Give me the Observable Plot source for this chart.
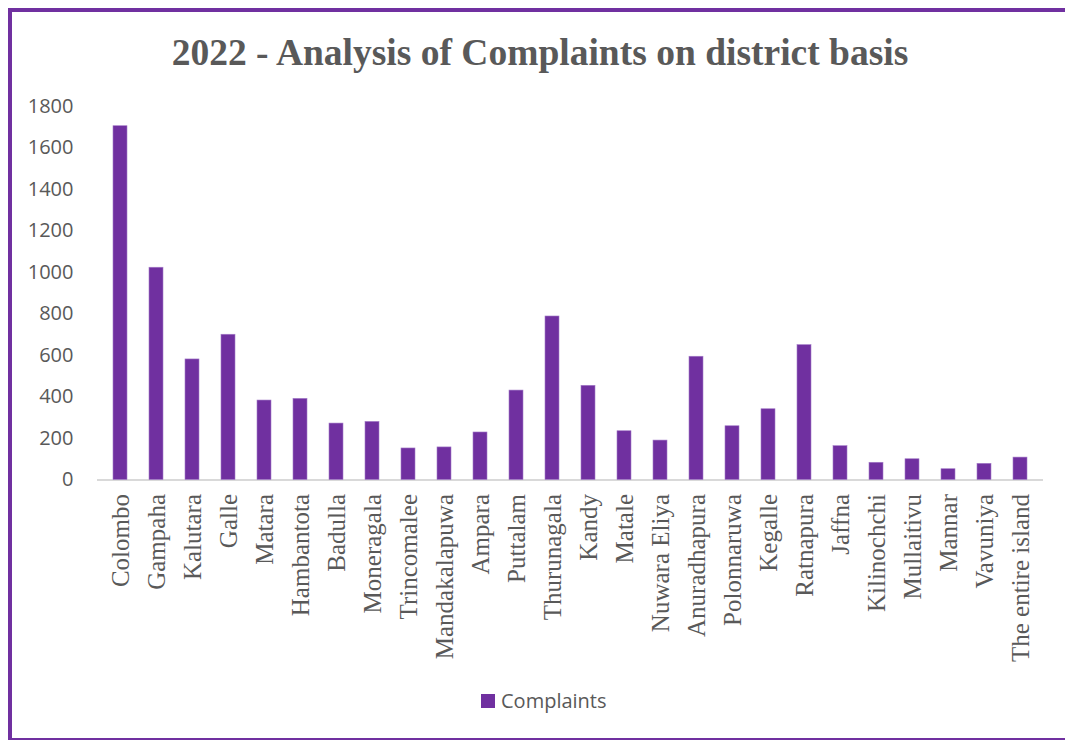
<!DOCTYPE html>
<html>
<head>
<meta charset="utf-8">
<script src="https://cdn.jsdelivr.net/npm/d3@7"></script>
<script src="https://cdn.jsdelivr.net/npm/@observablehq/plot@0.6"></script>
<style>
  html, body { margin: 0; padding: 0; background: #fff; overflow: hidden; }
  #page { position: relative; width: 1065px; height: 740px; overflow: hidden; background: #fff; }
  #frame { position: absolute; left: 8px; top: 8px; width: 1080px; height: 726px; border: 4px solid #7030A0; box-sizing: content-box; }
  #title { position: absolute; left: 0; width: 1080px; top: 31px; text-align: center; font-family: "Liberation Serif", "Times New Roman", serif; font-weight: bold; font-size: 37.5px; color: #595959; white-space: nowrap; }
  #chart { position: absolute; left: 0; top: 80px; }
  #legend { position: absolute; left: 481px; top: 687px; font-family: "Open Sans", sans-serif; font-size: 20px; color: #595959; display: flex; align-items: center; white-space: nowrap; }
  #legend .sw { width: 14px; height: 14px; background: #7030A0; margin-right: 6px; }
</style>
</head>
<body>
<div id="page">
  <div id="frame"></div>
  <div id="title">2022 - Analysis of Complaints on district basis</div>
  <div id="chart"></div>
  <div id="legend"><span class="sw"></span><span>Complaints</span></div>
</div>
<script>
const districts = ["Colombo","Gampaha","Kalutara","Galle","Matara","Hambantota","Badulla","Moneragala","Trincomalee","Mandakalapuwa","Ampara","Puttalam","Thurunagala","Kandy","Matale","Nuwara Eliya","Anuradhapura","Polonnaruwa","Kegalle","Ratnapura","Jaffna","Kilinochchi","Mullaitivu","Mannar","Vavuniya","The entire island"];
const complaints = [1705,1023,581,700,383,391,272,280,152,157,229,431,788,454,235,190,594,259,341,650,163,83,100,52,78,108];
const yTicks = [0,200,400,600,800,1000,1200,1400,1600,1800];

const data = districts.map((d, i) => ({district: d, value: complaints[i]}));

const chart = Plot.plot({
  width: 1065,
  height: 590,
  marginLeft: 97,
  marginRight: 22,
  marginTop: 26,
  marginBottom: 190.5,
  style: {background: "transparent", color: "#595959"},
  x: {domain: districts, paddingInner: 0.615, paddingOuter: 0.3075, label: null},
  y: {domain: [0, 1800], label: null},
  marks: [
    Plot.ruleY([0], {stroke: "#D9D9D9", strokeWidth: 2}),
    Plot.barY(data, {x: "district", y: "value", fill: "#7030A0", stroke: "#a47cc8", strokeWidth: 0.6}),
    Plot.axisY({ticks: yTicks, tickFormat: d => String(d), tickSize: 0, tickPadding: 24, fontSize: 20, fontFamily: "Open Sans, sans-serif", fill: "#595959", label: null}),
    Plot.axisX({tickSize: 0, tickPadding: 14, tickRotate: -90, fontSize: 25, fontFamily: "Liberation Serif, Times New Roman, serif", fill: "#595959", label: null})
  ]
});
document.getElementById("chart").appendChild(chart);
</script>
</body>
</html>
